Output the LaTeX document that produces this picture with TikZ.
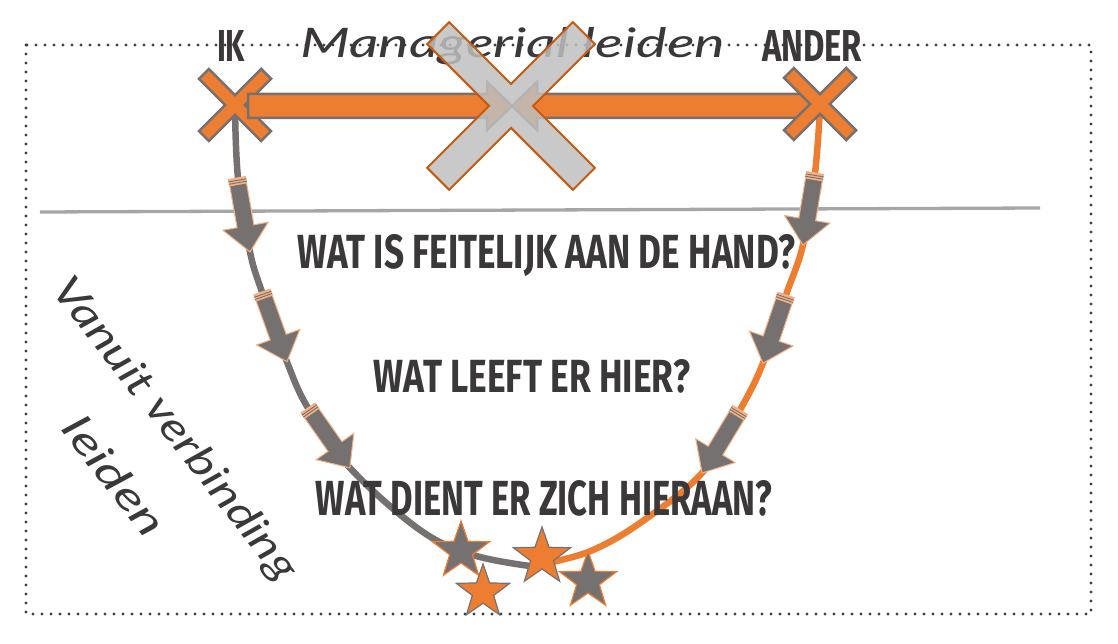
\documentclass[tikz,border=0pt]{standalone}
\usepackage{fontspec}
\usetikzlibrary{shapes.geometric}
\newfontfamily\headfont{Fira Sans}
\newfontfamily\handfont{Lato}
\definecolor{myorange}{HTML}{ED7D31}
\definecolor{mygray}{HTML}{767171}
\definecolor{lightor}{HTML}{F4B183}
\definecolor{darktext}{HTML}{3A3838}
\definecolor{xedge}{HTML}{C55A11}
\definecolor{xfill}{HTML}{BFBFBF}
\definecolor{framegray}{HTML}{404040}
\definecolor{linegray}{HTML}{A6A6A6}
\newcommand\curvarrow[4]{%
 \begin{scope}[shift={(#1,#2)}, rotate=#3]
  \draw[fill=mygray, draw=lightor, line width=1pt] (0,-8.5) -- (#4-26,-8.5) -- (#4-26,-23) -- (#4,0) -- (#4-26,23) -- (#4-26,8.5) -- (0,8.5) -- cycle;
  \fill[lightor] (0,-9) rectangle (7,9);
  \draw[mygray, line width=0.9pt] (2.4,-9) -- (2.4,9) (4.8,-9) -- (4.8,9);
 \end{scope}}
\newcommand\plusshape[2]{(#2,#2) -- (#1,#2) -- (#1,-#2) -- (#2,-#2) -- (#2,-#1) -- (-#2,-#1) -- (-#2,-#2) -- (-#1,-#2) -- (-#1,#2) -- (-#2,#2) -- (-#2,#1) -- (#2,#1) -- cycle}
\begin{document}
\begin{tikzpicture}[x=1pt,y=-1pt,
  head/.style={font=\headfont\bfseries, text=darktext, inner sep=0pt},
  hand/.style={font=\handfont\itshape, text=darktext, inner sep=0pt},
  starg/.style={star, star points=5, star point ratio=2.5, minimum size=60pt, inner sep=0pt, fill=mygray, draw=myorange, line width=1.2pt},
  staro/.style={starg, fill=myorange, draw=mygray},
  smallx/.style={fill=myorange, draw=mygray, line width=2.5pt},
  bigx/.style={fill=xfill, fill opacity=0.85, draw=xedge, line width=2pt},
  bararrow/.style={fill=myorange, draw=mygray, line width=2.5pt, line join=miter}]
\useasboundingbox (0,0) rectangle (1118,644);
% frame
\draw[framegray, line width=3.4pt, line cap=round, dash pattern=on 0pt off 9pt] (26,45) rectangle (1091,614);
% horizontal line
\draw[linegray, line width=3.3pt] (40,212) -- (1040,208);
% handwritten top text
\node[hand, anchor=base west] (mgr) at (300,58) {\resizebox{425pt}{30pt}{Managerial leiden}};
% curves
\draw[mygray, line width=6.5pt] plot[smooth, tension=0.6] coordinates {(235,108) (238,178) (250,252) (262,292) (287,362) (308,408) (350,468) (420,530) (473,555) (530,566)};
\draw[myorange, line width=6.5pt] plot[smooth, tension=0.6] coordinates {(820,108) (815,173) (803,245) (786,295) (763,363) (740,410) (702,473) (640,523) (593,550) (553,562) (535,566)};
% IK cross, bar arrows, ANDER cross
\draw[smallx, shift={(235,105)}, rotate=45] \plusshape{44}{7};
\draw[bararrow] (248,94) -- (487,94) -- (487,82) -- (512,106) -- (487,130) -- (487,118) -- (248,118) -- cycle;
\draw[bararrow] (815,94) -- (537,94) -- (537,82) -- (512,106) -- (537,130) -- (537,118) -- (815,118) -- cycle;
\draw[smallx, shift={(820,104)}, rotate=45] \plusshape{44}{7};
% big X
\draw[bigx, shift={(511,106)}, rotate=45] \plusshape{103}{15.5};
% stars
\node[starg] (s1) at (461,551) {};
\node[staro, minimum size=56pt] (s2) at (483,592) {};
\node[staro] (s3) at (542,557) {};
\node[starg] (s4) at (588,581) {};
% curve arrows
\curvarrow{237}{178}{-80}{75}
\curvarrow{262}{292}{-70.3}{74}
\curvarrow{308}{408}{-55}{73}
\curvarrow{815}{173}{-99.5}{73}
\curvarrow{786}{295}{-108.7}{72}
\curvarrow{740}{410}{-121.1}{73.5}
% labels
\node[head] (ik) at (231,46.5) {\resizebox{28pt}{31pt}{IK}};
\node[head] (ander) at (812,46.5) {\resizebox{100pt}{31pt}{ANDER}};
\node[head] (q1) at (546.5,256) {\resizebox{497pt}{34pt}{WAT IS FEITELIJK AAN DE HAND?}};
\node[head] (q2) at (532,376.5) {\resizebox{316pt}{33pt}{WAT LEEFT ER HIER?}};
\node[head] (q3) at (544,498.5) {\resizebox{456pt}{35pt}{WAT DIENT ER ZICH HIERAAN?}};
\node[hand, rotate=-52] (v1) at (174,430) {\resizebox{372pt}{30pt}{Vanuit verbinding}};
\node[hand, rotate=-52] (v2) at (115,476) {\resizebox{140pt}{30pt}{leiden}};
\end{tikzpicture}
\end{document}
